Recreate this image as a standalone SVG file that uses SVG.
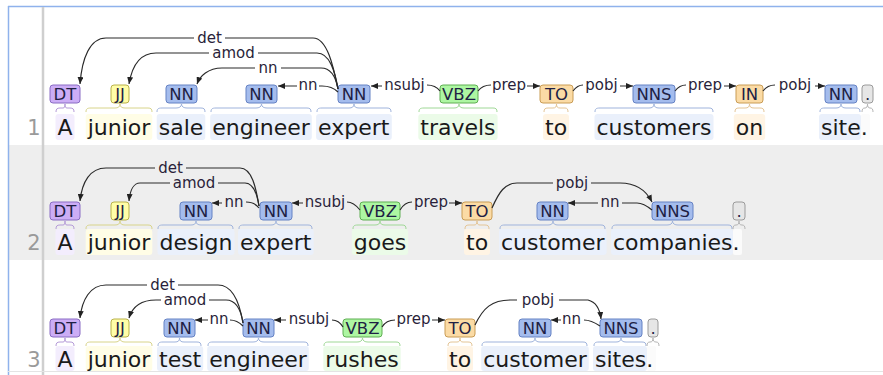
<svg xmlns="http://www.w3.org/2000/svg" width="883" height="375" viewBox="0 0 883 375">
<defs>
<marker id="ah" markerUnits="userSpaceOnUse" markerWidth="8" markerHeight="6" refX="7" refY="3" orient="auto"><path d="M0,0 L7,3 L0,6 z" fill="#222"/></marker>
<style>
.w{font-family:"DejaVu Sans",Verdana,sans-serif;font-size:22px;fill:#1a1a1a}
.t{font-family:"DejaVu Sans",Verdana,sans-serif;font-size:16.5px;fill:#1f1f44;text-anchor:middle}
.l{font-family:"DejaVu Sans",Verdana,sans-serif;font-size:15px;fill:#2a1f3a;text-anchor:middle}
.n{font-family:"DejaVu Sans",Verdana,sans-serif;font-size:21px;fill:#9a9a9a;text-anchor:middle}
.arc{fill:none;stroke:#2a2a2a;stroke-width:1.2;marker-end:url(#ah)}
.br{fill:none;stroke-width:1}
.DT{fill:#ccadf6;stroke:#8a6cc4}.JJ{fill:#fffda8;stroke:#b9b24a}.NN{fill:#a4bced;stroke:#6582c4}.VB{fill:#adf6a2;stroke:#5fae52}.TO{fill:#fbdba5;stroke:#c99c55}.PU{fill:#e6e6e6;stroke:#9a9a9a}
.bDT{stroke:#b49ad8}.bJJ{stroke:#d8d48a}.bNN{stroke:#9fb3dc}.bVB{stroke:#9fd896}.bTO{stroke:#e4c596}.bPU{stroke:#b5b5b5}
.gDT{fill:#f3edfd}.gJJ{fill:#fffde6}.gNN{fill:#eaf0fb}.gVB{fill:#ebfbe8}.gTO{fill:#fff4e4}.gPU{fill:#fbfbfb}
</style>
</defs>
<rect x="0" y="0" width="883" height="375" fill="#fff"/>
<rect x="8" y="145" width="875" height="115" fill="#eeeeee"/>
<line x1="8" y1="6.5" x2="883" y2="6.5" stroke="#8fb2ec" stroke-width="1.5"/>
<line x1="8.5" y1="6" x2="8.5" y2="375" stroke="#8fb2ec" stroke-width="1.5"/>
<line x1="43" y1="7" x2="43" y2="375" stroke="#cfcfcf" stroke-width="2.5"/>
<line x1="8" y1="371.5" x2="883" y2="371.5" stroke="#e4e4e4" stroke-width="1"/>
<g id="linenums"><text class="n" x="34" y="135">1</text><text class="n" x="34" y="250">2</text><text class="n" x="34" y="367">3</text></g>

<!-- ROW 1 -->
<g id="r1-A"><rect class="gDT" x="55.5" y="114" width="19" height="26" rx="3"/><path class="br bDT" d="M56 112 C56 109,57 108,60 108 L63 108 C64.5 108,65 107,65 104 C65 107,65.5 108,67 108 L70 108 C73 108,74 109,74 112"/><rect class="DT" x="50" y="85" width="30" height="18" rx="3"/><text class="t" x="65" y="100">DT</text><text class="w" x="57.5" y="135">A</text></g>
<g id="r1-junior"><rect class="gJJ" x="85.7" y="114" width="66.6" height="26" rx="3"/><path class="br bJJ" d="M86 112 C86 109,87 108,91 108 L115 108 C118 108,120 107,120 104 C120 107,122 108,125 108 L148 108 C151 108,152 109,152 112"/><rect class="JJ" x="111" y="85" width="18" height="18" rx="3"/><text class="t" x="120" y="100">JJ</text><text class="w" x="87.7" y="135">junior</text></g>
<g id="r1-sale"><rect class="gNN" x="156.7" y="114" width="48.6" height="26" rx="3"/><path class="br bNN" d="M157 112 C157 109,158 108,162 108 L176 108 C179 108,181.5 107,181.5 104 C181.5 107,184 108,187 108 L201 108 C204 108,205 109,205 112"/><rect class="NN" x="166" y="85" width="31" height="18" rx="3"/><text class="t" x="181.5" y="100">NN</text><text class="w" x="158.7" y="135">sale</text></g>
<g id="r1-engineer"><rect class="gNN" x="210.2" y="114" width="101.6" height="26" rx="3"/><path class="br bNN" d="M211 112 C211 109,212 108,216 108 L256 108 C259 108,261.5 107,261.5 104 C261.5 107,264 108,267 108 L307 108 C310 108,311 109,311 112"/><rect class="NN" x="246" y="85" width="31" height="18" rx="3"/><text class="t" x="261.5" y="100">NN</text><text class="w" x="212.2" y="135">engineer</text></g>
<g id="r1-expert"><rect class="gNN" x="316.1" y="114" width="75.7" height="26" rx="3"/><path class="br bNN" d="M317 112 C317 109,318 108,322 108 L349 108 C352 108,354 107,354 104 C354 107,356 108,359 108 L387 108 C390 108,391 109,391 112"/><rect class="NN" x="338" y="85" width="32" height="18" rx="3"/><text class="t" x="354" y="100">NN</text><text class="w" x="318.1" y="135">expert</text></g>
<g id="r1-travels"><rect class="gVB" x="418.3" y="114" width="79.3" height="26" rx="3"/><path class="br bVB" d="M419 112 C419 109,420 108,424 108 L454 108 C457 108,459 107,459 104 C459 107,461 108,464 108 L493 108 C496 108,497 109,497 112"/><rect class="VB" x="440" y="85" width="38" height="18" rx="3"/><text class="t" x="459" y="100">VBZ</text><text class="w" x="420.3" y="135">travels</text></g>
<g id="r1-to"><rect class="gTO" x="543" y="114" width="26" height="26" rx="3"/><path class="br bTO" d="M544 112 C544 109,545 108,548 108 L553 108 C555.5 108,556.5 107,556.5 104 C556.5 107,557.5 108,560 108 L565 108 C567 108,568 109,568 112"/><rect class="TO" x="540" y="85" width="33" height="18" rx="3"/><text class="t" x="556.5" y="100">TO</text><text class="w" x="545" y="135">to</text></g>
<g id="r1-customers"><rect class="gNN" x="594.5" y="114" width="119" height="26" rx="3"/><path class="br bNN" d="M595 112 C595 109,596 108,600 108 L649 108 C652 108,654 107,654 104 C654 107,656 108,659 108 L709 108 C712 108,713 109,713 112"/><rect class="NN" x="633" y="85" width="42" height="18" rx="3"/><text class="t" x="654" y="100">NNS</text><text class="w" x="596.5" y="135">customers</text></g>
<g id="r1-on"><rect class="gTO" x="733.8" y="114" width="31.4" height="26" rx="3"/><path class="br bTO" d="M735 112 C735 109,736 108,739 108 L745 108 C748 108,749.5 107,749.5 104 C749.5 107,751 108,754 108 L760 108 C763 108,764 109,764 112"/><rect class="TO" x="736" y="85" width="27" height="18" rx="3"/><text class="t" x="749.5" y="100">IN</text><text class="w" x="735.8" y="135">on</text></g>
<g id="r1-site"><rect class="gNN" x="819" y="114" width="42" height="26" rx="3"/><rect class="gPU" x="861" y="114" width="9" height="26" rx="2"/><path class="br bNN" d="M820 112 C820 109,821 108,825 108 L836 108 C839 108,841 107,841 104 C841 107,843 108,846 108 L856 108 C859 108,860 109,860 112"/><rect class="NN" x="825" y="85" width="32" height="18" rx="3"/><text class="t" x="841" y="100">NN</text><text class="w" x="821" y="135">site.</text></g>
<g id="r1-dot"><path class="br bPU" d="M862 112 C862 109,863 108,865 108 C866.5 108,867.5 107,867.5 104 C867.5 107,868.5 108,870 108 C872 108,873 109,873 112"/><rect class="PU" x="862" y="85" width="11" height="18" rx="3"/><text class="t" x="867.5" y="100">.</text></g>

<!-- ROW 2 -->
<g id="r2-A"><rect class="gDT" x="55.5" y="229" width="19" height="26" rx="3"/><path class="br bDT" d="M56 229 C56 226,57 225,60 225 L63 225 C64.5 225,65 224,65 221 C65 224,65.5 225,67 225 L70 225 C73 225,74 226,74 229"/><rect class="DT" x="50" y="202" width="30" height="18" rx="3"/><text class="t" x="65" y="217">DT</text><text class="w" x="57.5" y="250">A</text></g>
<g id="r2-junior"><rect class="gJJ" x="85.7" y="229" width="66.6" height="26" rx="3"/><path class="br bJJ" d="M86 229 C86 226,87 225,91 225 L115 225 C118 225,120 224,120 221 C120 224,122 225,125 225 L148 225 C151 225,152 226,152 229"/><rect class="JJ" x="111" y="202" width="18" height="18" rx="3"/><text class="t" x="120" y="217">JJ</text><text class="w" x="87.7" y="250">junior</text></g>
<g id="r2-design"><rect class="gNN" x="157.5" y="229" width="77" height="26" rx="3"/><path class="br bNN" d="M158 229 C158 226,159 225,163 225 L191 225 C194 225,196 224,196 221 C196 224,198 225,201 225 L229 225 C232 225,233 226,233 229"/><rect class="NN" x="180" y="202" width="32" height="18" rx="3"/><text class="t" x="196" y="217">NN</text><text class="w" x="159.5" y="250">design</text></g>
<g id="r2-expert"><rect class="gNN" x="238" y="229" width="75.7" height="26" rx="3"/><path class="br bNN" d="M239 229 C239 226,240 225,244 225 L271 225 C274 225,276 224,276 221 C276 224,278 225,281 225 L308 225 C311 225,312 226,312 229"/><rect class="NN" x="260" y="202" width="32" height="18" rx="3"/><text class="t" x="276" y="217">NN</text><text class="w" x="240" y="250">expert</text></g>
<g id="r2-goes"><rect class="gVB" x="351.8" y="229" width="56.4" height="26" rx="3"/><path class="br bVB" d="M353 229 C353 226,354 225,358 225 L375 225 C378 225,380 224,380 221 C380 224,382 225,385 225 L402 225 C405 225,406 226,406 229"/><rect class="VB" x="360" y="202" width="40" height="18" rx="3"/><text class="t" x="380" y="217">VBZ</text><text class="w" x="353.8" y="250">goes</text></g>
<g id="r2-to"><rect class="gTO" x="464" y="229" width="26" height="26" rx="3"/><path class="br bTO" d="M465 229 C465 226,466 225,469 225 L474 225 C476 225,477 224,477 221 C477 224,478 225,480 225 L485 225 C488 225,489 226,489 229"/><rect class="TO" x="462" y="202" width="30" height="18" rx="3"/><text class="t" x="477" y="217">TO</text><text class="w" x="466" y="250">to</text></g>
<g id="r2-customer"><rect class="gNN" x="499" y="229" width="107.6" height="26" rx="3"/><path class="br bNN" d="M500 229 C500 226,501 225,505 225 L548 225 C551 225,553 224,553 221 C553 224,555 225,558 225 L601 225 C604 225,605 226,605 229"/><rect class="NN" x="537" y="202" width="31" height="18" rx="3"/><text class="t" x="552.5" y="217">NN</text><text class="w" x="501" y="250">customer</text></g>
<g id="r2-companies"><rect class="gNN" x="611" y="229" width="122" height="26" rx="3"/><rect class="gPU" x="733" y="229" width="9" height="26" rx="2"/><path class="br bNN" d="M612 229 C612 226,613 225,617 225 L667 225 C670 225,672.5 224,672.5 221 C672.5 224,675 225,678 225 L728 225 C731 225,732 226,732 229"/><rect class="NN" x="652" y="202" width="41" height="18" rx="3"/><text class="t" x="672.5" y="217">NNS</text><text class="w" x="613" y="250">companies.</text></g>
<g id="r2-dot"><path class="br bPU" d="M733 229 C733 226,734 225,736 225 C738 225,739 224,739 221 C739 224,740 225,742 225 C744 225,745 226,745 229"/><rect class="PU" x="733" y="202" width="12" height="18" rx="3"/><text class="t" x="739" y="217">.</text></g>

<!-- ROW 3 -->
<g id="r3-A"><rect class="gDT" x="55.5" y="346" width="19" height="25" rx="3"/><path class="br bDT" d="M56 346 C56 343,57 342,60 342 L63 342 C64.5 342,65 341,65 338 C65 341,65.5 342,67 342 L70 342 C73 342,74 343,74 346"/><rect class="DT" x="50" y="319" width="30" height="18" rx="3"/><text class="t" x="65" y="334">DT</text><text class="w" x="57.5" y="367">A</text></g>
<g id="r3-junior"><rect class="gJJ" x="85.7" y="346" width="66.6" height="25" rx="3"/><path class="br bJJ" d="M86 346 C86 343,87 342,91 342 L115 342 C118 342,120 341,120 338 C120 341,122 342,125 342 L148 342 C151 342,152 343,152 346"/><rect class="JJ" x="111" y="319" width="18" height="18" rx="3"/><text class="t" x="120" y="334">JJ</text><text class="w" x="87.7" y="367">junior</text></g>
<g id="r3-test"><rect class="gNN" x="157" y="346" width="46.2" height="25" rx="3"/><path class="br bNN" d="M158 346 C158 343,159 342,163 342 L175 342 C178 342,179.5 341,179.5 338 C179.5 341,181 342,184 342 L197 342 C200 342,201 343,201 346"/><rect class="NN" x="164" y="319" width="31" height="18" rx="3"/><text class="t" x="179.5" y="334">NN</text><text class="w" x="159" y="367">test</text></g>
<g id="r3-engineer"><rect class="gNN" x="207.2" y="346" width="101.6" height="25" rx="3"/><path class="br bNN" d="M208 346 C208 343,209 342,213 342 L253 342 C256 342,258.5 341,258.5 338 C258.5 341,261 342,264 342 L304 342 C307 342,308 343,308 346"/><rect class="NN" x="243" y="319" width="31" height="18" rx="3"/><text class="t" x="258.5" y="334">NN</text><text class="w" x="209.2" y="367">engineer</text></g>
<g id="r3-rushes"><rect class="gVB" x="323.3" y="346" width="77.4" height="25" rx="3"/><path class="br bVB" d="M324 346 C324 343,325 342,329 342 L357 342 C360 342,362.5 341,362.5 338 C362.5 341,365 342,368 342 L396 342 C399 342,400 343,400 346"/><rect class="VB" x="343" y="319" width="39" height="18" rx="3"/><text class="t" x="362.5" y="334">VBZ</text><text class="w" x="325.3" y="367">rushes</text></g>
<g id="r3-to"><rect class="gTO" x="447" y="346" width="26" height="25" rx="3"/><path class="br bTO" d="M448 346 C448 343,449 342,452 342 L457 342 C459 342,460 341,460 338 C460 341,461 342,463 342 L468 342 C471 342,472 343,472 346"/><rect class="TO" x="445" y="319" width="30" height="18" rx="3"/><text class="t" x="460" y="334">TO</text><text class="w" x="449" y="367">to</text></g>
<g id="r3-customer"><rect class="gNN" x="481.2" y="346" width="107.6" height="25" rx="3"/><path class="br bNN" d="M482 346 C482 343,483 342,487 342 L530 342 C533 342,535 341,535 338 C535 341,537 342,540 342 L583 342 C586 342,587 343,587 346"/><rect class="NN" x="519" y="319" width="32" height="18" rx="3"/><text class="t" x="535" y="334">NN</text><text class="w" x="483.2" y="367">customer</text></g>
<g id="r3-sites"><rect class="gNN" x="593" y="346" width="54" height="25" rx="3"/><rect class="gPU" x="647" y="346" width="9" height="25" rx="2"/><path class="br bNN" d="M594 346 C594 343,595 342,599 342 L616 342 C619 342,621 341,621 338 C621 341,623 342,626 342 L642 342 C645 342,646 343,646 346"/><rect class="NN" x="600" y="319" width="42" height="18" rx="3"/><text class="t" x="621" y="334">NNS</text><text class="w" x="595" y="367">sites.</text></g>
<g id="r3-dot"><path class="br bPU" d="M647 346 C647 343,648 342,650 342 C652 342,653 341,653 338 C653 341,654 342,656 342 C658 342,659 343,659 346"/><rect class="PU" x="648" y="319" width="10" height="18" rx="3"/><text class="t" x="653" y="334">.</text></g>

<!-- CONNECTORS -->
<g id="connectors">
<path class="arc" d="M338 89 C334 70,328 38,313 38 L225 38 M194 38 L106 38 C90 38,82 58,80 84"/>
<path class="arc" d="M338 89 C335 72,330 53,317 53 L258 53 M209 53 L156 53 C140 53,132 66,129 84"/>
<path class="arc" d="M338 89 C336 78,332 68,321 68 L281 68 M255 68 L222 68 C208 68,200 76,197 84"/>
<path class="arc" d="M338 92 C334 88,330 86,322 86 L319 86 M297 86 L278 86"/>
<path class="arc" d="M440 91 C437 87,433 85,427 85 M382 86 L371 86"/>
<path class="arc" d="M478 91 C481 87,485 85,491 85 M527 86 L540 86"/>
<path class="arc" d="M573 91 C576 87,579 85,583 85 M620 86 L633 86"/>
<path class="arc" d="M675 91 C678 87,682 85,686 85 M724 86 L736 86"/>
<path class="arc" d="M763 91 C766 87,770 85,775 85 M815 86 L825 86"/>
<text class="l" x="209.5" y="43">det</text>
<text class="l" x="233.5" y="58">amod</text>
<text class="l" x="268" y="73">nn</text>
<text class="l" x="308" y="90">nn</text>
<text class="l" x="404.5" y="90">nsubj</text>
<text class="l" x="509" y="90">prep</text>
<text class="l" x="601.5" y="90">pobj</text>
<text class="l" x="705" y="90">prep</text>
<text class="l" x="795" y="90">pobj</text>

<path class="arc" d="M259 206 C256 188,252 168,240 168 L186 168 M155 168 L106 168 C90 168,82 182,80 201"/>
<path class="arc" d="M259 206 C257 193,253 183,245 183 L218 183 M170 183 L140 183 C134 183,130 190,129 201"/>
<path class="arc" d="M259 208 C256 204,252 202,246 202 M222 203 L212 203"/>
<path class="arc" d="M360 210 C356 205,352 202,347 202 M303 203 L292 203"/>
<path class="arc" d="M400 210 C403 205,407 202,412 202 M449 203 L462 203"/>
<path class="arc" d="M492 208 C499 192,505 183,517 183 L553 183 M591 183 L620 183 C636 183,646 190,652 202"/>
<path class="arc" d="M652 210 C646 205,642 203,637 203 L622 203 M598 203 L568 203"/>
<text class="l" x="170.5" y="173">det</text>
<text class="l" x="194" y="188">amod</text>
<text class="l" x="234" y="207">nn</text>
<text class="l" x="325" y="207">nsubj</text>
<text class="l" x="431" y="207">prep</text>
<text class="l" x="572" y="188">pobj</text>
<text class="l" x="610" y="207">nn</text>

<path class="arc" d="M243 323 C240 305,233 285,218 285 L178 285 M147 285 L106 285 C90 285,82 300,80 318"/>
<path class="arc" d="M243 323 C241 310,236 300,226 300 L209 300 M161 300 L156 300 C140 300,132 308,129 318"/>
<path class="arc" d="M243 326 C239 322,235 320,230 320 M208 320 L195 320"/>
<path class="arc" d="M343 327 C340 322,336 320,332 320 M286 320 L274 320"/>
<path class="arc" d="M382 327 C385 322,389 320,395 320 M432 320 L445 320"/>
<path class="arc" d="M475 325 C483 308,492 300,510 300 L517 300 M559 300 L588 300 C596 302,600 310,601 319"/>
<path class="arc" d="M600 326 C594 322,590 320,584 320 M561 320 L551 320"/>
<text class="l" x="162.5" y="290">det</text>
<text class="l" x="185" y="305">amod</text>
<text class="l" x="219" y="324">nn</text>
<text class="l" x="309" y="324">nsubj</text>
<text class="l" x="413.5" y="324">prep</text>
<text class="l" x="538" y="305">pobj</text>
<text class="l" x="571.5" y="324">nn</text>
</g>
</svg>
